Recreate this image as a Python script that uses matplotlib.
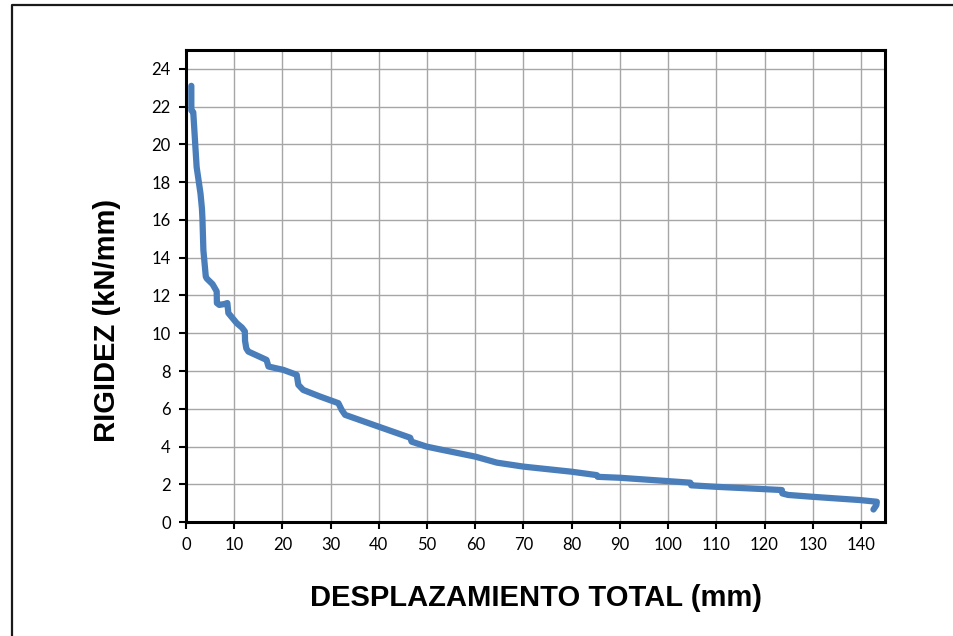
import matplotlib
matplotlib.use('Agg')
import matplotlib.pyplot as plt
from matplotlib.lines import Line2D

# displacement (mm) and stiffness (kN/mm)
desplazamiento = [1.1, 1.1, 1.5, 2.2, 3.0, 3.3, 3.4, 3.6, 4.1, 4.3, 5.5, 6.36, 6.4, 6.9,
                  8.0, 8.57, 8.78, 10.5, 11.6, 12.2, 12.24, 12.5, 12.93, 16.7, 17.1,
                  20.2, 22.96, 23.3, 24.3, 27.8, 31.6, 32.3, 33.0, 38.9, 46.5, 46.8,
                  49.9, 52.7, 60.0, 64.5, 70.0, 80.0, 85.2, 85.4, 90.0, 100.1, 104.6,
                  104.8, 110.1, 119.8, 123.6, 123.7, 124.9, 130.1, 139.8, 143.3,
                  143.2, 142.6]
rigidez = [23.1, 21.8, 21.7, 18.8, 17.4, 16.6, 16.1, 14.4, 13.0, 12.9, 12.6, 12.22, 11.6,
           11.5, 11.55, 11.6, 11.07, 10.54, 10.3, 10.1, 9.6, 9.2, 9.03, 8.59, 8.24,
           8.06, 7.8, 7.27, 7.0, 6.65, 6.3, 5.94, 5.68, 5.15, 4.47, 4.26,
           4.0, 3.85, 3.47, 3.15, 2.94, 2.67, 2.49, 2.40, 2.35, 2.17, 2.09,
           1.95, 1.87, 1.75, 1.70, 1.52, 1.44, 1.34, 1.17, 1.08,
           0.9, 0.67]

x_ticks = list(range(0, 141, 10))
y_ticks = list(range(0, 25, 2))

fig = plt.figure(figsize=(9.54, 6.36), dpi=100)
ax = fig.add_axes([0.195, 0.179, 0.7327, 0.7425])

ax.plot(desplazamiento, rigidez, color='#4A7EBB', linewidth=4.5, solid_capstyle='round',
        solid_joinstyle='round', zorder=3)

ax.set_xlim(0, 145)
ax.set_ylim(0, 25)
ax.set_xticks(x_ticks)
ax.set_yticks(y_ticks)
ax.grid(True, color='#A6A6A6', linewidth=1)
ax.set_axisbelow(True)

for s in ax.spines.values():
    s.set_linewidth(2.2)
    s.set_color('black')

ax.tick_params(direction='out', length=5, width=1.5, labelsize=12, pad=6)
for lab in ax.get_xticklabels() + ax.get_yticklabels():
    lab.set_family('Lato')

ax.set_xlabel('DESPLAZAMIENTO TOTAL (mm)', fontsize=21, fontweight='bold',
              family='Liberation Sans', labelpad=22)
ax.set_ylabel('RIGIDEZ (kN/mm)', fontsize=21, fontweight='bold',
              family='Liberation Sans')
ax.yaxis.set_label_coords(-0.093, 0.428)

# outer chart border (only top and left visible in the reference)
y_top = 1 - 4.5 / 636
x_left = 12 / 954
fig.add_artist(Line2D([x_left, x_left, 1], [0, y_top, y_top], transform=fig.transFigure,
                      color='#1a1a1a', linewidth=1.6))

fig.savefig('out.png', dpi=100)
